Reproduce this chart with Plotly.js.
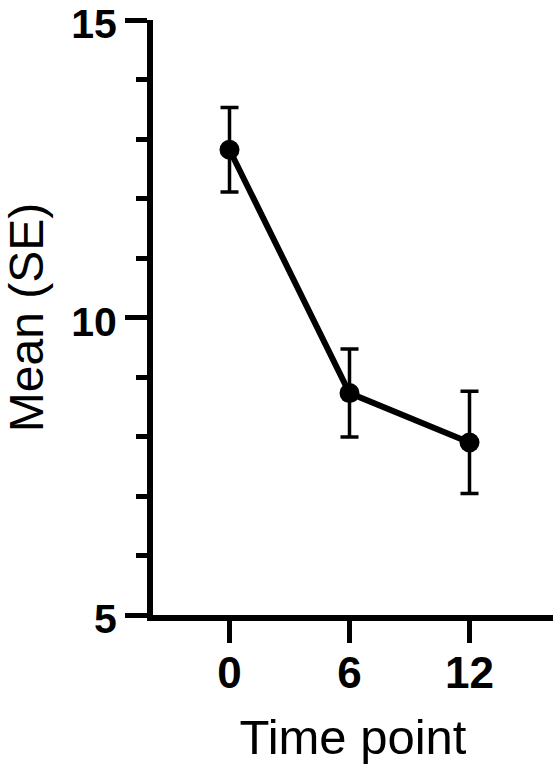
<!DOCTYPE html>
<html>
<head>
<meta charset="utf-8">
<script src="https://cdn.plot.ly/plotly-3.0.1.min.js"></script>
<style>html,body{margin:0;padding:0;background:#fff;}#chart{width:553px;height:772px;}</style>
</head>
<body>
<div id="chart"></div>
<script>
const timePoints = [0, 6, 12];
const meanValues = [12.82, 8.73, 7.90];
const seValues = [0.71, 0.74, 0.86];
const xTickVals = [0, 6, 12];
const yTickVals = [5, 10, 15];

const trace = {
  x: timePoints,
  y: meanValues,
  type: 'scatter',
  mode: 'lines+markers',
  line: {color: '#000', width: 6},
  marker: {color: '#000', size: 20},
  error_y: {type: 'data', array: seValues, visible: true, color: '#000', thickness: 3.5, width: 9},
  cliponaxis: false,
  hoverinfo: 'skip'
};

const font = 'Arial, "Liberation Sans", sans-serif';
const layout = {
  width: 553, height: 772,
  margin: {l: 153, r: 0, t: 20, b: 157},
  paper_bgcolor: '#fff', plot_bgcolor: '#fff',
  showlegend: false,
  xaxis: {
    range: [-3.825, 16.175],
    tickvals: xTickVals,
    ticktext: xTickVals.map(String),
    showgrid: false, zeroline: false,
    showline: true, linecolor: '#000', linewidth: 6,
    ticks: 'outside', ticklen: 22, tickwidth: 5, tickcolor: '#000',
    ticklabelstandoff: -8,
    tickfont: {family: font, size: 44, color: '#000', weight: 'bold'},
    title: {text: 'Time point', font: {family: font, size: 49, color: '#000'}, standoff: 26}
  },
  yaxis: {
    range: [5, 15],
    tickvals: yTickVals,
    ticktext: yTickVals.map(String),
    showgrid: false, zeroline: false,
    showline: true, linecolor: '#000', linewidth: 6,
    ticks: 'outside', ticklen: 22, tickwidth: 5, tickcolor: '#000',
    ticklabeloverflow: 'allow',
    ticklabelshift: 4,
    minor: {dtick: 1, tick0: 5, ticks: 'outside', ticklen: 11, tickwidth: 5, tickcolor: '#000', showgrid: false},
    tickfont: {family: font, size: 41, color: '#000', weight: 'bold'},
    title: {text: 'Mean (SE)', font: {family: font, size: 48, color: '#000'}, standoff: 18}
  }
};

Plotly.newPlot('chart', [trace], layout, {staticPlot: true, displayModeBar: false});
</script>
</body>
</html>
